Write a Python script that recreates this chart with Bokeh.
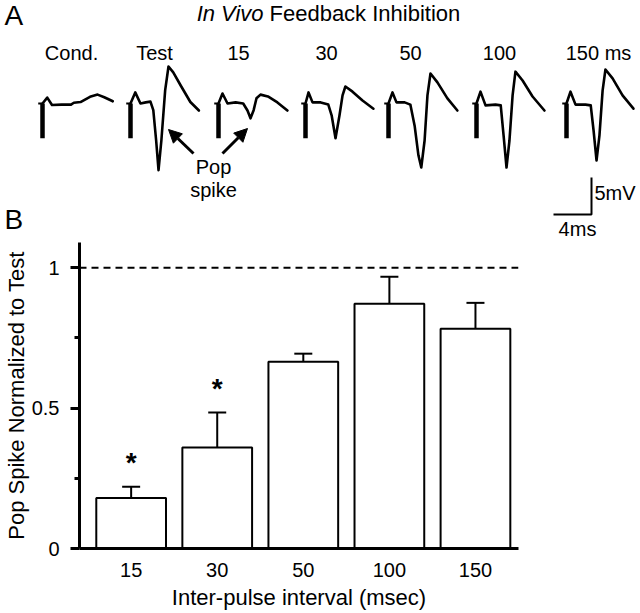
from bokeh.plotting import figure
from bokeh.layouts import column
from bokeh.models import (Range1d, FixedTicker, Span, Whisker, TeeHead, Arrow,
                          NormalHead, ColumnDataSource)
from bokeh.core.properties import value
from bokeh.embed import file_html
from bokeh.resources import INLINE

FONT = "Liberation Sans"

# ---------------- Panel A data: field potentials (ms after stimulus, mV from baseline)
trace_labels = ["Cond.", "Test", "15", "30", "50", "100", "150 ms"]

cond_t = [0, 0.5, 1.0, 2.0, 3.0, 3.3, 4.0, 5.0, 5.8, 6.5, 7.4]
cond_v = [0, 0.8, -0.2, -0.15, -0.15, 0.1, 0.2, 0.9, 1.2, 0.85, 0.3]

test_t = [0, 0.5, 1.05, 1.6, 2.1, 2.4, 2.7, 2.95, 3.25, 3.65, 4.0, 4.5, 5.3, 6.3, 7.2]
test_v = [0, 1.5, 0, 0.15, 0.25, -0.9, -5.0, -9.0, -5.0, 1.8, 5.0, 4.2, 2.4, 0.2, -0.95]

i15_t = [0, 0.42, 0.95, 1.8, 2.6, 3.05, 3.37, 3.7, 4.0, 4.42, 5.2, 6.2, 7.25]
i15_v = [0, 1.35, 0, 0.15, 0, -0.95, -2.0, -0.9, 0.7, 1.2, 0.95, 0.15, -0.95]

i30_t = [0, 0.32, 0.74, 1.6, 2.4, 2.75, 3.16, 3.58, 3.9, 4.2, 4.95, 6.0, 7.15]
i30_v = [0, 1.5, 0.15, 0.15, -0.15, -1.6, -4.7, -1.6, 1.1, 2.3, 1.6, 0.4, -0.7]

i50_t = [0, 0.42, 0.84, 1.7, 2.3, 2.75, 3.15, 3.45, 3.8, 4.1, 4.42, 5.15, 6.2, 7.25]
i50_v = [0, 1.5, 0.15, 0.15, -0.15, -3.0, -7.0, -8.65, -5.0, 1.1, 4.05, 2.85, 0.7, -0.95]

i100_t = [0, 0.42, 0.95, 2.0, 2.55, 2.85, 3.16, 3.47, 3.8, 4.1, 4.85, 5.9, 7.15]
i100_v = [0, 1.6, -0.25, -0.15, -0.25, -4.3, -8.65, -5.0, 1.1, 4.3, 3.1, 0.95, -0.95]

i150_t = [0, 0.42, 0.95, 2.0, 2.55, 2.85, 3.16, 3.47, 3.8, 4.1, 4.85, 5.9, 7.05]
i150_v = [0, 1.6, -0.15, -0.15, -0.25, -3.65, -7.7, -4.3, 1.75, 4.6, 3.4, 1.1, -0.7]

artifact_mv = -4.7
scale_ms = 4
scale_mv = 5

# ---------------- Panel B data
intervals = ["15", "30", "50", "100", "150"]
ratio = [0.18, 0.36, 0.665, 0.872, 0.783]
sem = [0.04, 0.124, 0.029, 0.096, 0.092]
significant = [True, True, False, False, False]
y_ticks = [0, 0.5, 1]
y_minor = [0.25, 0.75]
y_tick_labels = ["0", "0.5", "1"]
reference_level = 1

# ---------------- Panel A layout
TOP_W, TOP_H = 640, 242
PX_MS, PX_MV = 9.5, 7.4      # pixels per ms / per mV
BASE_Y = 103                  # baseline row (px from top)


def ax(xp):
    return xp / PX_MS


def ay(yp):
    return (BASE_Y - yp) / PX_MV


top = figure(width=TOP_W, height=TOP_H, output_backend="svg", toolbar_location=None,
             x_range=Range1d(ax(0), ax(TOP_W)),
             y_range=Range1d(ay(TOP_H), ay(0)),
             x_axis_location=None, y_axis_location=None,
             min_border=0, outline_line_color=None)
top.xgrid.visible = False
top.ygrid.visible = False

onset_px = [42, 130, 218, 305, 388, 476, 566]
onsets = [ax(v) for v in onset_px]
times = [cond_t, test_t, i15_t, i30_t, i50_t, i100_t, i150_t]
volts = [cond_v, test_v, i15_v, i30_v, i50_v, i100_v, i150_v]

top.multi_line(xs=[[o + t for t in T] for o, T in zip(onsets, times)], ys=volts,
               line_color="black", line_width=2.6, line_join="round", line_cap="round")
top.segment(x0=onsets, y0=[0] * 7, x1=onsets, y1=[artifact_mv] * 7,
            line_color="black", line_width=4.5)
top.segment(x0=[o - 0.45 for o in onsets], y0=[0] * 7, x1=onsets, y1=[0] * 7,
            line_color="black", line_width=2)

label_cx = [71, 154, 238, 326, 410, 499, 598]
top.text(x=[ax(c) for c in label_cx], y=[ay(52)] * 7, text=trace_labels,
         text_align="center", text_baseline="middle",
         text_font=value(FONT), text_font_size="20px", text_color="black")

top.text(x=[ax(263)], y=[ay(13)], text=["In Vivo"], text_align="right",
         text_baseline="middle", text_font=value(FONT), text_font_size="22px",
         text_font_style="italic", text_color="black")
top.text(x=[ax(269)], y=[ay(13)], text=["Feedback Inhibition"], text_align="left",
         text_baseline="middle", text_font=value(FONT), text_font_size="22px",
         text_color="black")
top.text(x=[ax(4), ax(4)], y=[ay(15), ay(219)], text=["A", "B"], text_align="left",
         text_baseline="middle", text_font=value(FONT), text_font_size="28px",
         text_color="black")

for (xs, ys, xe, ye) in [(193, 153, 168, 129), (222, 153, 247, 128)]:
    top.add_layout(Arrow(x_start=ax(xs), y_start=ay(ys), x_end=ax(xe), y_end=ay(ye),
                         line_width=3, line_color="black",
                         end=NormalHead(size=13, fill_color="black", line_color="black")))
top.text(x=[ax(213), ax(213)], y=[ay(166), ay(189)], text=["Pop", "spike"],
         text_align="center", text_baseline="middle", text_font=value(FONT),
         text_font_size="20px", text_color="black")

sx, sy = ax(591), ay(214)
top.line(x=[sx - scale_ms, sx, sx], y=[sy, sy, sy + scale_mv], line_color="black",
         line_width=2)
top.text(x=[ax(594)], y=[sy + scale_mv / 2 + 0.4], text=[f"{scale_mv}mV"],
         text_align="left", text_baseline="middle", text_font=value(FONT),
         text_font_size="20px", text_color="black")
top.text(x=[ax(577)], y=[ay(228)], text=[f"{scale_ms}ms"],
         text_align="center", text_baseline="middle", text_font=value(FONT),
         text_font_size="20px", text_color="black")

# ---------------- Panel B
xs = list(range(1, len(intervals) + 1))
bot = figure(width=640, height=613 - TOP_H, output_backend="svg", toolbar_location=None,
             x_range=Range1d(0.4, 5.5), y_range=Range1d(0, 1.09),
             min_border_left=77, min_border_right=122, min_border_top=0,
             min_border_bottom=65, outline_line_color=None)
bot.xgrid.visible = False
bot.ygrid.visible = False

bot.vbar(x=xs, top=ratio, width=0.81, bottom=0, fill_color="white",
         line_color="black", line_width=2)
src = ColumnDataSource(dict(x=xs, lower=ratio, upper=[r + s for r, s in zip(ratio, sem)]))
bot.add_layout(Whisker(source=src, base="x", lower="lower", upper="upper",
                       lower_head=None, line_width=2, line_color="black",
                       upper_head=TeeHead(size=18, line_width=2, line_color="black")))
bot.add_layout(Span(location=reference_level, dimension="width", line_dash="7 5",
                    line_width=2, line_color="black"))
sig_x = [x for x, s in zip(xs, significant) if s]
sig_y = [r + s + 0.085 for r, s, g in zip(ratio, sem, significant) if g]
bot.text(x=sig_x, y=sig_y, text=["*"] * len(sig_x), text_align="center",
         text_baseline="middle", text_font=value(FONT), text_font_size="28px",
         text_font_style="bold", text_color="black")

for axis in (bot.xaxis, bot.yaxis):
    axis.axis_line_width = 3
    axis.axis_line_color = "black"
    axis.major_label_text_font = FONT
    axis.major_label_text_font_size = "20px"
    axis.major_label_text_color = "black"
    axis.axis_label_text_font = FONT
    axis.axis_label_text_font_size = "22px"
    axis.axis_label_text_font_style = "normal"
    axis.axis_label_text_color = "black"

bot.xaxis.ticker = FixedTicker(ticks=xs)
bot.xaxis.major_label_overrides = {x: lab for x, lab in zip(xs, intervals)}
bot.xaxis.major_tick_out = 0
bot.xaxis.major_tick_in = 0
bot.xaxis.minor_tick_out = 0
bot.xaxis.major_label_standoff = 14
bot.xaxis.axis_label = "Inter-pulse interval (msec)"
bot.xaxis.axis_label_standoff = 5

bot.yaxis.ticker = FixedTicker(ticks=y_ticks, minor_ticks=y_minor)
bot.yaxis.major_label_overrides = {t: lab for t, lab in zip(y_ticks, y_tick_labels)}
bot.yaxis.major_tick_out = 9
bot.yaxis.major_tick_in = 0
bot.yaxis.minor_tick_out = 5
bot.yaxis.minor_tick_in = 0
bot.yaxis.major_tick_line_width = 3
bot.yaxis.minor_tick_line_width = 3
bot.yaxis.major_tick_line_color = "black"
bot.yaxis.minor_tick_line_color = "black"
bot.yaxis.major_label_standoff = 11
bot.yaxis.axis_label = "Pop Spike Normalized to Test"
bot.yaxis.axis_label_standoff = 0

# nest each figure so that the outer column does not align their frames
layout = column(column(top), column(bot))
open("out.html", "w").write(file_html(layout, INLINE))
